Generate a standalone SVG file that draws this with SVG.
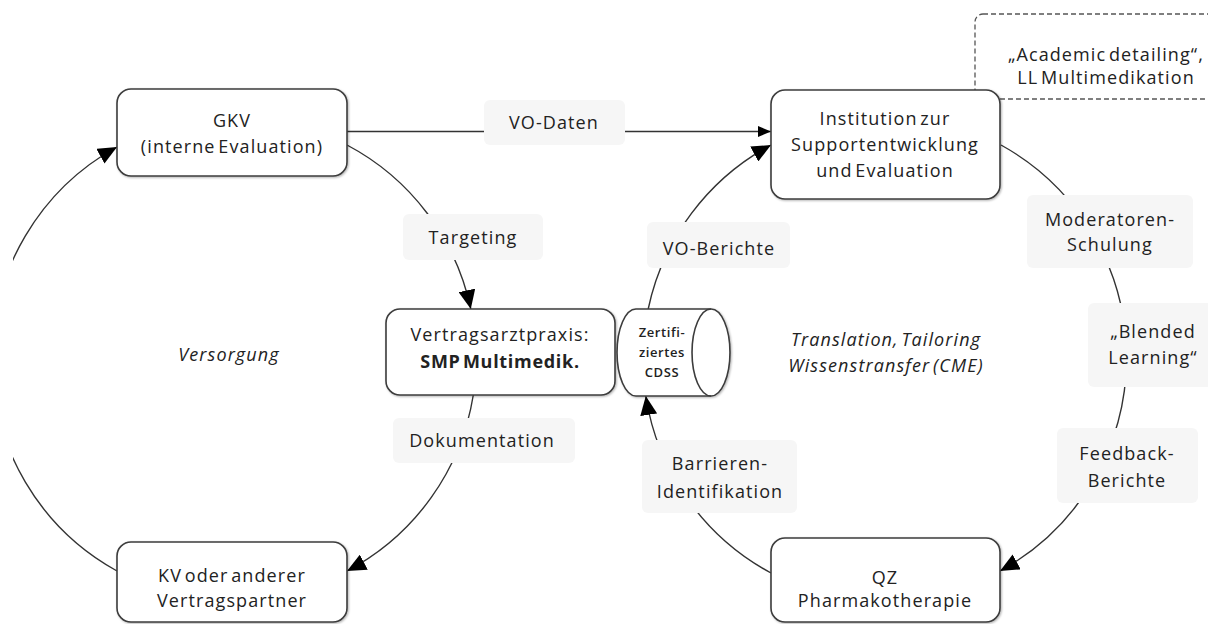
<svg xmlns="http://www.w3.org/2000/svg" width="1208" height="624" viewBox="0 0 1208 624">
<style>
.node rect, .node path { fill:#ffffff; stroke:#3c3c3c; stroke-width:1.6; }
.t { font-family:"Open Sans","Liberation Sans",sans-serif; font-size:18px; fill:#222; text-anchor:middle; letter-spacing:1.1px; word-spacing:-3px; }
.it { font-style:italic; }
.b { font-weight:bold; letter-spacing:0.7px; }
.small { font-size:13px; font-weight:600; letter-spacing:0.6px; }
.conn { fill:none; stroke:#333; stroke-width:1.4; }
.lbl rect { fill:#f6f6f6; stroke:none; }
.dash { fill:#fff; stroke:#555; stroke-width:1.3; stroke-dasharray:5 3; }
</style>
<defs>
<marker id="ah" markerUnits="userSpaceOnUse" viewBox="0 0 19 17" refX="19" refY="8.5" markerWidth="19" markerHeight="17" orient="auto">
<path d="M0,0 L19,8.5 L0,17 Z" fill="#000"/>
</marker>
<marker id="ahs" markerUnits="userSpaceOnUse" viewBox="0 0 13 11" refX="13" refY="5.5" markerWidth="13" markerHeight="11" orient="auto">
<path d="M0,0 L13,5.5 L0,11 Z" fill="#000"/>
</marker>
<clipPath id="clipL"><rect x="13" y="0" width="1195" height="624"/></clipPath>
<filter id="sh" x="-5%" y="-5%" width="115%" height="120%">
<feDropShadow dx="1" dy="1" stdDeviation="0.8" flood-color="#000" flood-opacity="0.3"/>
</filter>
</defs>

<g id="note-academic">
<rect class="dash" x="975" y="14" width="260" height="85" rx="8"/>
<text class="t" x="1106" y="61">„Academic detailing“,</text>
<text class="t" x="1106" y="84">LL Multimedikation</text>
</g>

<g id="connectors">
<path class="conn" clip-path="url(#clipL)" d="M117,571 A242,242 0 0 1 117,147" marker-end="url(#ah)"/>
<path class="conn" d="M347,145 A242,242 0 0 1 470.8,309" marker-end="url(#ah)"/>
<path class="conn" d="M473.3,395 A242,242 0 0 1 347,571" marker-end="url(#ah)"/>
<path class="conn" d="M648.2,309 A243,243 0 0 1 771,145" marker-end="url(#ah)"/>
<path class="conn" d="M1001,145 A243,243 0 0 1 1000,571" marker-end="url(#ah)"/>
<path class="conn" d="M771,573 A243,243 0 0 1 645.8,396" marker-end="url(#ah)"/>
<path class="conn" d="M347,131.5 L771,131.5" marker-end="url(#ahs)"/>
<g class="lbl">
<rect x="484" y="100" width="141" height="45" rx="6"/>
<text class="t" x="554" y="129">VO-Daten</text>
<rect x="403" y="214" width="140" height="46" rx="6"/>
<text class="t" x="473" y="244">Targeting</text>
<rect x="647" y="222" width="143" height="46" rx="6"/>
<text class="t" x="719" y="255">VO-Berichte</text>
<rect x="1027" y="195" width="166" height="73" rx="6"/>
<text class="t" x="1110" y="226">Moderatoren-</text>
<text class="t" x="1110" y="251">Schulung</text>
<rect x="1088" y="303" width="135" height="84" rx="6"/>
<text class="t" x="1153" y="338">„Blended</text>
<text class="t" x="1153" y="364">Learning“</text>
<rect x="1057" y="428" width="141" height="75" rx="6"/>
<text class="t" x="1127" y="460">Feedback-</text>
<text class="t" x="1127" y="487">Berichte</text>
<rect x="642" y="440" width="155" height="73" rx="6"/>
<text class="t" x="720" y="470">Barrieren-</text>
<text class="t" x="720" y="498">Identifikation</text>
<rect x="393" y="418" width="182" height="45" rx="6"/>
<text class="t" x="482" y="447">Dokumentation</text>
</g>
</g>

<g id="node-gkv" class="node">
<rect x="117" y="89" width="230" height="87" rx="14" filter="url(#sh)"/>
<text class="t" x="232" y="127">GKV</text>
<text class="t" x="232" y="153">(interne Evaluation)</text>
</g>

<g id="node-institution" class="node">
<rect x="771" y="90" width="229" height="109" rx="14" filter="url(#sh)"/>
<text class="t" x="885" y="125">Institution zur</text>
<text class="t" x="885" y="151">Supportentwicklung</text>
<text class="t" x="885" y="177">und Evaluation</text>
</g>

<g id="node-praxis" class="node">
<rect x="386" y="309" width="229" height="86" rx="14" filter="url(#sh)"/>
<text class="t" x="500" y="341">Vertragsarztpraxis:</text>
<text class="t b" x="500" y="368">SMP Multimedik.</text>
</g>

<g id="node-cdss" class="node">
<path d="M636,309 L711,309 A19,43.5 0 0 1 711,396 L636,396 A19,43.5 0 0 1 636,309 Z" filter="url(#sh)"/>
<path d="M711,309 A19,43.5 0 0 0 711,396" style="fill:none"/>
<text class="t small" x="662" y="337">Zertifi-</text>
<text class="t small" x="662" y="357">ziertes</text>
<text class="t small" x="662" y="377">CDSS</text>
</g>

<g id="node-kv" class="node">
<rect x="117" y="542" width="230" height="80" rx="14" filter="url(#sh)"/>
<text class="t" x="232" y="582">KV oder anderer</text>
<text class="t" x="232" y="607">Vertragspartner</text>
</g>

<g id="node-qz" class="node">
<rect x="771" y="538" width="229" height="84" rx="14" filter="url(#sh)"/>
<text class="t" x="885" y="584">QZ</text>
<text class="t" x="885" y="607">Pharmakotherapie</text>
</g>

<g id="cycle-labels">
<text class="t it" x="229" y="361">Versorgung</text>
<text class="t it" x="886" y="346">Translation, Tailoring</text>
<text class="t it" x="886" y="372">Wissenstransfer (CME)</text>
</g>
</svg>
